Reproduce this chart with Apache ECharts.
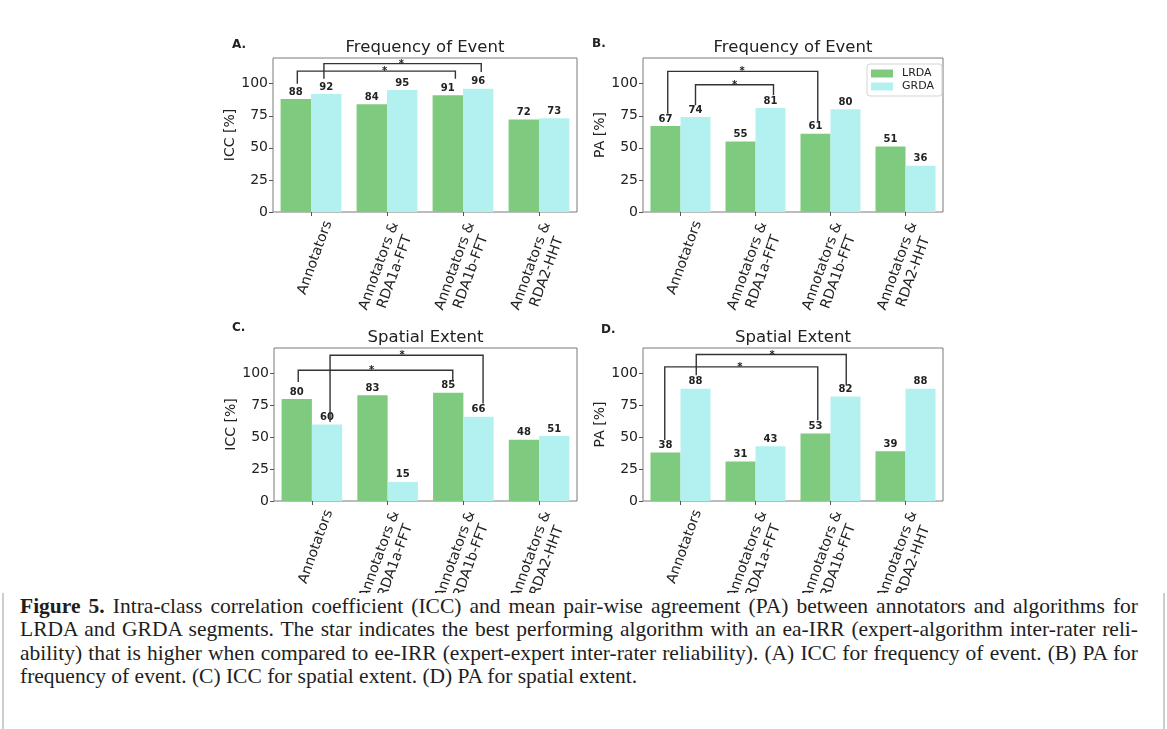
<!DOCTYPE html>
<html>
<head>
<meta charset="utf-8">
<script src="https://cdn.jsdelivr.net/npm/echarts@6/dist/echarts.min.js"></script>
<style>
  html, body { margin: 0; padding: 0; background: #fff; }
  body { width: 1167px; height: 729px; position: relative; overflow: hidden; }
  .frame {
    position: absolute; left: 2px; top: 5px; width: 1163px; height: 760px;
    border: 2px solid #cdcdcd; border-top-color: #a3a3a3; box-sizing: border-box;
  }
  #chart { position: absolute; left: 0; top: 0; width: 1167px; height: 593px; }
  .caption {
    position: absolute; left: 20px; top: 595px; width: 1118px;
    font-family: 'Liberation Serif', 'DejaVu Serif', serif; font-size: 21.5px;
    line-height: 23.3px; color: #1e1e1e;
  }
  .caption .ln { white-space: nowrap; display: block; height: 23.3px; }
  .caption .ln span { display: inline-block; transform-origin: 0 0; }
</style>
</head>
<body>
<div class="frame"></div>
<div id="chart"></div>
<div class="caption">
  <div class="ln fit"><span><b>Figure 5.</b> Intra-class correlation coefficient (ICC) and mean pair-wise agreement (PA) between annotators and algorithms for</span></div>
  <div class="ln fit"><span>LRDA and GRDA segments. The star indicates the best performing algorithm with an ea-IRR (expert-algorithm inter-rater reli-</span></div>
  <div class="ln fit"><span>ability) that is higher when compared to ee-IRR (expert-expert inter-rater reliability). (A) ICC for frequency of event. (B) PA for</span></div>
  <div class="ln"><span>frequency of event. (C) ICC for spatial extent. (D) PA for spatial extent.</span></div>
</div>
<script>
// x categories (same in all four panels)
const categories = ['Annotators', 'Annotators &\nRDA1a-FFT', 'Annotators &\nRDA1b-FFT', 'Annotators &\nRDA2-HHT'];
const yTicks = [0, 25, 50, 75, 100];

// A. ICC, frequency of event
const lrdaA = [88, 84, 91, 72];
const grdaA = [92, 95, 96, 73];
// B. PA, frequency of event
const lrdaB = [67, 55, 61, 51];
const grdaB = [74, 81, 80, 36];
// C. ICC, spatial extent
const lrdaC = [80, 83, 85, 48];
const grdaC = [60, 15, 66, 51];
// D. PA, spatial extent
const lrdaD = [38, 31, 53, 39];
const grdaD = [88, 43, 82, 88];

// significance brackets: [x left, x right, y left end, y top, y right end, star x]
// x in category units (0 = first category centre)
const bracketsA = [[-0.18, 1.90, 100, 109.8, 103.9, 0.97], [0.17, 2.24, 103.9, 115.6, 109, 1.19]];
const bracketsB = [[-0.17, 1.83, 76.6, 109.6, 70.9, 0.82], [0.2, 1.24, 83.1, 99.2, 90.9, 0.72]];
const bracketsC = [[-0.18, 1.86, 93.4, 102.6, 94.6, 0.79], [0.24, 2.26, 62, 114.3, 76.5, 1.19]];
const bracketsD = [[-0.21, 1.83, 47.8, 105.2, 63.4, 0.79], [0.21, 2.21, 98.7, 114.9, 90.8, 1.22]];

const GREEN = '#7ecb7f';
const CYAN = '#b3f0f0';
const INK = '#222';

const panels = [
  { letter: 'A.', title: 'Frequency of Event', yName: 'ICC [%]', lrda: lrdaA, grda: grdaA, brackets: bracketsA,
    grid: { left: 273, top: 58, width: 304, height: 154 }, letterAt: [232, 39] },
  { letter: 'B.', title: 'Frequency of Event', yName: 'PA [%]', lrda: lrdaB, grda: grdaB, brackets: bracketsB,
    grid: { left: 643, top: 58, width: 300, height: 154 }, letterAt: [592, 38] },
  { letter: 'C.', title: 'Spatial Extent', yName: 'ICC [%]', lrda: lrdaC, grda: grdaC, brackets: bracketsC,
    grid: { left: 274, top: 348, width: 303, height: 153 }, letterAt: [232, 322] },
  { letter: 'D.', title: 'Spatial Extent', yName: 'PA [%]', lrda: lrdaD, grda: grdaD, brackets: bracketsD,
    grid: { left: 643, top: 348, width: 300, height: 153 }, letterAt: [601, 324] }
];

function renderBracket(params, api) {
  const pl = api.coord([api.value(0), api.value(2)]);
  const tl = api.coord([api.value(0), api.value(3)]);
  const tr = api.coord([api.value(1), api.value(3)]);
  const pr = api.coord([api.value(1), api.value(4)]);
  const st = api.coord([api.value(5), api.value(3)]);
  return {
    type: 'group',
    children: [
      { type: 'polyline', shape: { points: [pl, tl, tr, pr] },
        style: { stroke: '#333', lineWidth: 1.4, fill: null } },
      { type: 'text', x: st[0], y: st[1] + 0.5,
        style: { text: '*', fill: INK, fontSize: 10, fontWeight: 'bold', fontFamily: 'DejaVu Sans',
                 align: 'center', verticalAlign: 'middle' } }
    ]
  };
}

const barLabel = {
  show: true, position: 'top', distance: 2,
  fontSize: 10, fontWeight: 'bold', color: INK, fontFamily: 'DejaVu Sans'
};

const option = {
  animation: false,
  backgroundColor: '#fff',
  textStyle: { fontFamily: 'DejaVu Sans' },
  title: [],
  grid: [],
  xAxis: [],
  yAxis: [],
  series: [],
  legend: {
    data: ['LRDA', 'GRDA'],
    orient: 'vertical',
    left: 867, top: 64,
    icon: 'rect', itemWidth: 22, itemHeight: 8, itemGap: 2,
    padding: [4, 8, 4, 4],
    borderColor: '#d4d4d4', borderWidth: 1, borderRadius: 3,
    backgroundColor: '#fff',
    textStyle: { fontSize: 11, color: INK, padding: [0, 0, 0, 4] }
  }
};

panels.forEach((p, i) => {
  const cx = p.grid.left + p.grid.width / 2;
  option.title.push({
    text: p.title, left: cx, top: p.grid.top - 19, textAlign: 'center', padding: 0,
    textStyle: { fontSize: 16.5, fontWeight: 'normal', color: INK, fontFamily: 'DejaVu Sans' }
  });
  option.title.push({
    text: p.letter, left: p.letterAt[0], top: p.letterAt[1], padding: 0,
    textStyle: { fontSize: 12, fontWeight: 'bold', color: INK, fontFamily: 'DejaVu Sans' }
  });

  option.grid.push(Object.assign({
    show: true, borderColor: '#7a7a7a', borderWidth: 1, backgroundColor: 'transparent',
    containLabel: false, outerBoundsMode: 'none'
  }, p.grid));

  option.xAxis.push({
    type: 'category', gridIndex: i,
    data: categories.map((c, k) => k === 0
      ? { value: c, textStyle: { align: 'center', verticalAlign: 'middle', padding: [0, 0, 9, 24] } }
      : c),
    axisLine: { show: false, onZero: false },
    axisTick: { show: true, alignWithLabel: true, length: 4, lineStyle: { color: '#555' } },
    axisLabel: {
      interval: 0, rotate: 70, align: 'center', verticalAlign: 'middle', margin: 57,
      fontSize: 14, lineHeight: 17, color: INK
    }
  });
  option.xAxis.push({ type: 'value', gridIndex: i, min: -0.5, max: 3.5, show: false });

  option.yAxis.push({
    type: 'value', gridIndex: i, min: 0, max: 120,
    name: p.yName, nameLocation: 'middle', nameGap: 30,
    nameTextStyle: { fontSize: 14, color: INK },
    axisLine: { show: false, onZero: false },
    splitLine: { show: false },
    axisTick: { show: true, length: 4, customValues: yTicks, lineStyle: { color: '#555' } },
    axisLabel: { fontSize: 14, color: INK, margin: 5, customValues: yTicks }
  });

  option.series.push({
    type: 'bar', name: 'LRDA', xAxisIndex: 2 * i, yAxisIndex: i,
    data: p.lrda, barWidth: '40%', barGap: '0%',
    itemStyle: { color: GREEN }, label: barLabel
  });
  option.series.push({
    type: 'bar', name: 'GRDA', xAxisIndex: 2 * i, yAxisIndex: i,
    data: p.grda, barWidth: '40%', barGap: '0%',
    itemStyle: { color: CYAN }, label: barLabel
  });
  option.series.push({
    type: 'custom', xAxisIndex: 2 * i + 1, yAxisIndex: i,
    data: p.brackets, renderItem: renderBracket, clip: false, z: 5,
    encode: { x: [0, 1, 5], y: [2, 3, 4] }
  });
});

const myChart = echarts.init(document.getElementById('chart'));
myChart.setOption(option);

// justify the first caption lines to the full column width
document.querySelectorAll('.caption .fit').forEach(ln => {
  const span = ln.querySelector('span');
  const target = 1118;
  const w = span.getBoundingClientRect().width;
  if (w < target) {
    const gaps = (span.textContent.match(/ /g) || []).length;
    span.style.wordSpacing = ((target - w) / gaps) + 'px';
  } else {
    span.style.transform = 'scaleX(' + (target / w) + ')';
  }
});
</script>
</body>
</html>
